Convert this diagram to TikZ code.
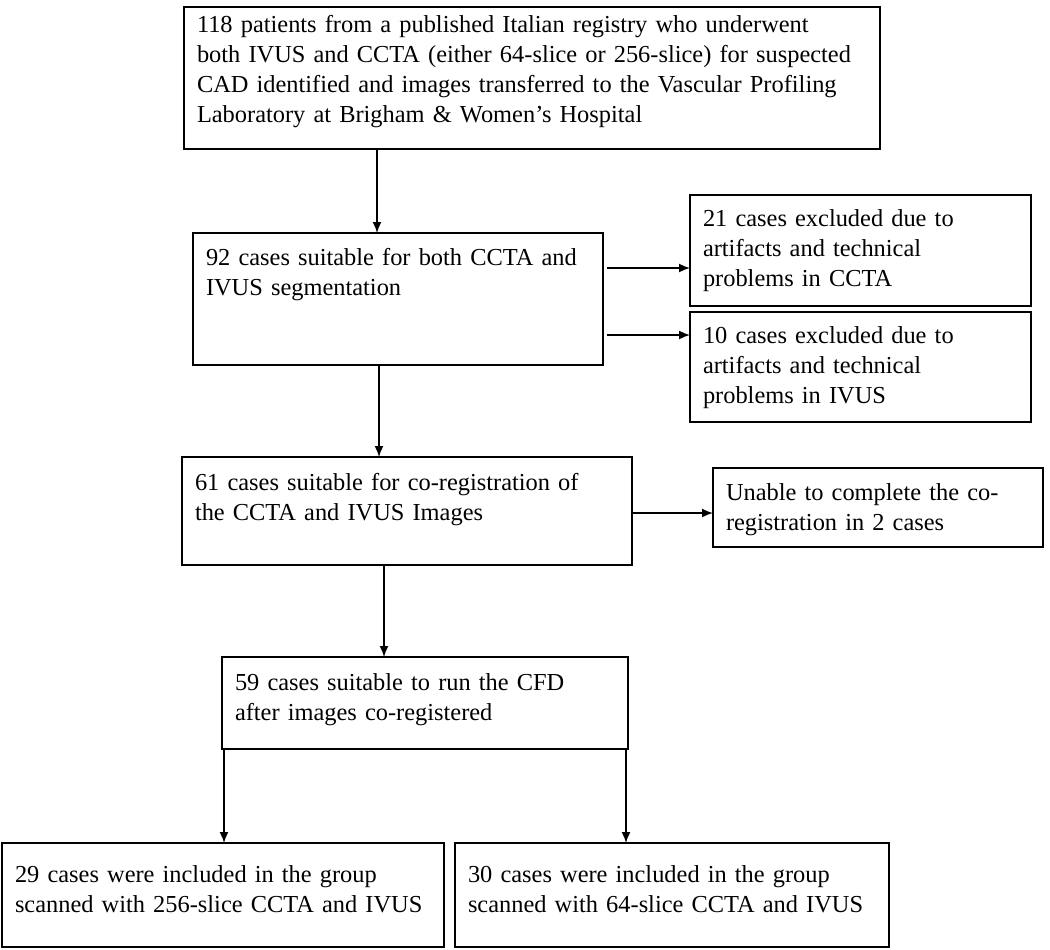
\documentclass[tikz,border=0pt]{standalone}
\usepackage{fontspec}
\setmainfont{Liberation Serif}
\usepackage{tikz}
\usetikzlibrary{arrows.meta}

\begin{document}
\begin{tikzpicture}[x=0.5pt,y=-0.5pt,
        box/.style={draw,line width=1pt,rectangle,anchor=north west,align=left,
            inner xsep=6.5pt,inner ysep=0pt,outer sep=0pt,
            font=\fontsize{12.2}{15}\selectfont},
        flow/.style={line width=0.8pt,-{Latex[length=5.5pt,width=4.5pt]}}]
    \useasboundingbox (0,0) rectangle (1050,949);
    % Boites
    \node[box,text width=335pt,text height=12.5pt,text depth=58.5pt] (registry) at (184,7)
        {118 patients from a published Italian registry who underwent\\
         both IVUS and CCTA (either 64-slice or 256-slice) for suspected\\
         CAD identified and images transferred to the Vascular Profiling\\
         Laboratory at Brigham \& Women's Hospital};
    \node[box,text width=192pt,text height=16pt,text depth=50pt] (suitable) at (193,233)
        {92 cases suitable for both CCTA and\\ IVUS segmentation};
    \node[box,text width=157.5pt,text height=15.5pt,text depth=40pt] (exccta) at (690,195)
        {21 cases excluded due to\\ artifacts and technical\\ problems in CCTA};
    \node[box,text width=157.5pt,text height=15.5pt,text depth=39.5pt] (exivus) at (690,312)
        {10 cases excluded due to\\ artifacts and technical\\ problems in IVUS};
    \node[box,text width=212pt,text height=16.5pt,text depth=37.5pt] (coreg) at (182,457)
        {61 cases suitable for co-registration of\\ the CCTA and IVUS Images};
    \node[box,text width=152pt,text height=16pt,text depth=23.5pt] (failed) at (713,468)
        {Unable to complete the co-\\ registration in 2 cases};
    \node[box,text width=190pt,text height=16.5pt,text depth=29.5pt] (cfd) at (222,657)
        {59 cases suitable to run the CFD\\ after images co-registered};
    \node[box,text width=208pt,text height=19.5pt,text depth=32.5pt] (grpa) at (2,843)
        {29 cases were included in the group\\ scanned with 256-slice CCTA and IVUS};
    \node[box,text width=204pt,text height=19.5pt,text depth=32.5pt] (grpb) at (455,843)
        {30 cases were included in the group\\ scanned with 64-slice CCTA and IVUS};
    % Reperes des fleches
    \coordinate (c1) at (377,0);
    \coordinate (c2) at (379,0);
    \coordinate (c3) at (384,0);
    \coordinate (c4) at (224,0);
    \coordinate (c5) at (626,0);
    \coordinate (r1) at (0,268);
    \coordinate (r2) at (0,335);
    \coordinate (r3) at (0,513);
    % Fleches
    \draw[flow] (registry.south -| c1) -- (suitable.north -| c1);
    \draw[flow] ([xshift=2pt]suitable.east |- r1) -- (exccta.west |- r1);
    \draw[flow] ([xshift=2pt]suitable.east |- r2) -- (exivus.west |- r2);
    \draw[flow] (suitable.south -| c2) -- (coreg.north -| c2);
    \draw[flow] (coreg.east |- r3) -- (failed.west |- r3);
    \draw[flow] (coreg.south -| c3) -- (cfd.north -| c3);
    \draw[flow] (cfd.south -| c4) -- (grpa.north -| c4);
    \draw[flow] (cfd.south -| c5) -- (grpb.north -| c5);
\end{tikzpicture}
\end{document}
